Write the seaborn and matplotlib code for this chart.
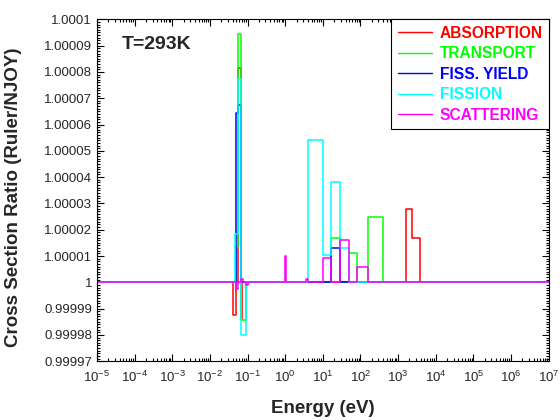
import numpy as np
import pandas as pd
import seaborn as sns
import matplotlib.pyplot as plt
from matplotlib.lines import Line2D
from matplotlib.ticker import AutoMinorLocator, LogLocator, NullFormatter

# energy group edges (eV) and ratio deviation (units of 1e-5) inside each group
abs_edges = [0.040, 0.049, 0.056, 0.066, 0.071, 1580, 2350, 3800]
abs_dev = [-1.24, 0, 8.13, -1.4, 0, 2.8, 1.7]

tra_edges = [0.049, 0.056, 0.066, 0.093, 16.3, 29, 50, 79, 155, 390]
tra_dev = [1.33, 9.43, -1.42, 0, 1.7, 0, 1.1, 0, 2.5]

fy_edges = [0.049, 0.056, 0.066, 16.3, 29]
fy_dev = [6.44, 6.75, 0, 1.31]

fis_edges = [0.047, 0.056, 0.066, 0.093, 4.1, 10.3, 16.3, 29, 50]
fis_dev = [1.83, 7.72, -2.02, 0, 5.43, 1.03, 3.81, 1.31]

sca_edges = [0.049, 0.056, 0.066, 0.075, 0.093, 0.1, 1.0, 1.03, 3.5, 4.1,
             10.3, 16.3, 29, 50, 79, 155]
sca_dev = [-0.25, 0, 0.12, 0, -0.1, 0, 1.0, 0, 0.12, 0, 0.91, 0, 1.61, 0, 0.6]

series_names = ["ABSORPTION", "TRANSPORT", "FISS. YIELD", "FISSION", "SCATTERING"]
series_colors = ["#ff0000", "#00ff00", "#0000ff", "#00ffff", "#ff00ff"]

y_ticks = [0.99997, 0.99998, 0.99999, 1.0, 1.00001, 1.00002, 1.00003,
           1.00004, 1.00005, 1.00006, 1.00007, 1.00008, 1.00009, 1.0001]
y_labels = ["0.99997", "0.99998", "0.99999", "1", "1.00001", "1.00002",
            "1.00003", "1.00004", "1.00005", "1.00006", "1.00007",
            "1.00008", "1.00009", "1.0001"]

E_MIN, E_MAX = 1e-5, 1e7


def steps(name, edges, dev):
    x = [E_MIN] + list(edges) + [E_MAX]
    d = [0] + list(dev) + [0, 0]
    return pd.DataFrame({"series": name, "energy": x,
                         "ratio": [1 + v * 1e-5 for v in d]})


df = pd.concat([
    steps(series_names[0], abs_edges, abs_dev),
    steps(series_names[1], tra_edges, tra_dev),
    steps(series_names[2], fy_edges, fy_dev),
    steps(series_names[3], fis_edges, fis_dev),
    steps(series_names[4], sca_edges, sca_dev),
], ignore_index=True)

sns.set_style("ticks")
plt.rcParams["font.family"] = ["Liberation Sans", "DejaVu Sans"]
plt.rcParams["mathtext.default"] = "regular"

fig = plt.figure(figsize=(5.6, 4.2), dpi=100)
ax = fig.add_axes([0.173, 0.140, 0.807, 0.814])
ax.set_xscale("log")

sns.lineplot(data=df, x="energy", y="ratio", hue="series",
             hue_order=series_names, palette=series_colors,
             estimator=None, sort=False, drawstyle="steps-post",
             lw=1.1, legend=False, ax=ax)

ax.set_xlim(E_MIN, E_MAX)
ax.set_ylim(0.99997, 1.0001)
ax.set_yticks(y_ticks)
ax.set_yticklabels(y_labels)
ax.yaxis.set_minor_locator(AutoMinorLocator(10))
ax.xaxis.set_major_locator(LogLocator(base=10, numticks=20))
ax.xaxis.set_minor_locator(LogLocator(base=10, subs=np.arange(2, 10), numticks=200))
ax.xaxis.set_minor_formatter(NullFormatter())

ax.tick_params(which="both", direction="in", top=True, right=True,
               labelsize=9.5, color="black", width=0.8)
ax.tick_params(which="major", length=5)
ax.tick_params(which="minor", length=2.5)
ax.tick_params(axis="x", which="major", pad=6)
for s in ax.spines.values():
    s.set_color("black")
    s.set_linewidth(0.8)

ax.set_xlabel("Energy (eV)", fontsize=13.5, fontweight="bold", labelpad=11)
ax.set_ylabel("Cross Section Ratio (Ruler/NJOY)", fontsize=13.5,
              fontweight="bold")
ax.yaxis.set_label_coords(-0.165, 0.48)

ax.text(0.054, 0.925, "T=293K", transform=ax.transAxes, fontsize=14,
        fontweight="bold", va="center", ha="left")

handles = [Line2D([], [], color=c, lw=1) for c in series_colors]
leg = ax.legend(handles, series_names, loc="upper right", borderaxespad=0,
                fancybox=False, edgecolor="black", framealpha=1,
                prop={"weight": "bold", "size": 11.2}, handlelength=2.2,
                labelspacing=0.36, borderpad=0.4, handletextpad=0.5)
leg.get_frame().set_linewidth(0.8)
for t, c in zip(leg.get_texts(), series_colors):
    t.set_color(c)

fig.savefig("out.png", dpi=100)
plt.close(fig)
